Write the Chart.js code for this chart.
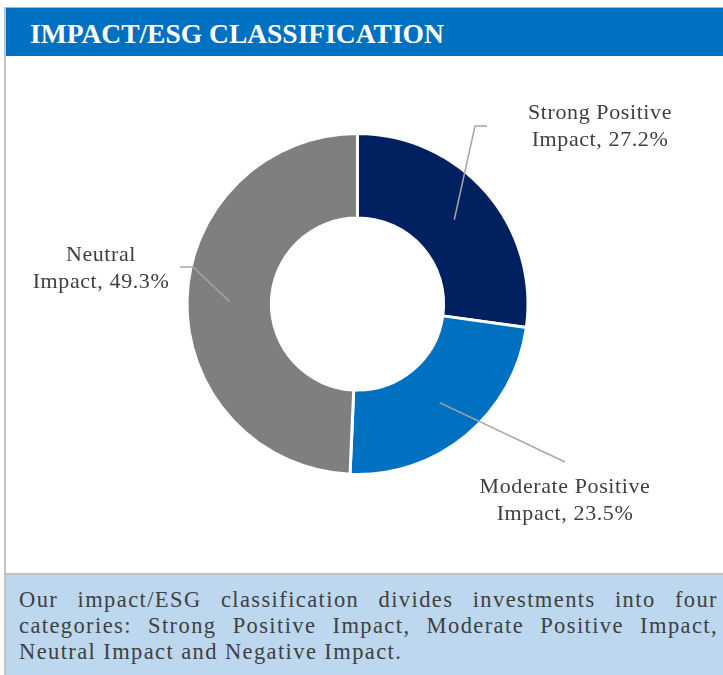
<!DOCTYPE html>
<html>
<head>
<meta charset="utf-8">
<script src="https://cdn.jsdelivr.net/npm/chart.js@4"></script>
<style>
  html, body { margin: 0; padding: 0; background: #fff; }
  body { width: 723px; height: 675px; position: relative; overflow: hidden; }
  .topline { position: absolute; left: 4px; top: 7px; width: 719px; height: 1px; background: #b5b5b5; }
  .leftline { position: absolute; left: 4px; top: 7px; width: 2px; height: 668px; background: #c4c4c4; }
  .header {
    position: absolute; left: 6px; top: 8px; width: 717px; height: 48px;
    background: #0070c0; color: #fff;
    font: bold 27.5px "Liberation Serif", serif; line-height: 48px;
    padding-left: 24px; box-sizing: border-box; padding-top: 2px;
  }
  .chartbox { position: absolute; left: 0; top: 56px; width: 723px; height: 517px; }
  .note {
    position: absolute; left: 6px; top: 573px; width: 717px; height: 102px;
    border-top: 2px solid #c0c0c0; background: #bdd7ee; box-sizing: border-box;
    padding: 12px 5px 0 13px; color: #404040;
    font: 22.5px "Liberation Serif", serif; line-height: 26px; letter-spacing: 1.4px;
  }
  .note div { text-align: justify; text-align-last: justify; white-space: nowrap; }
  .note div.last { text-align-last: left; }
</style>
</head>
<body>
<div class="topline"></div>
<div class="header">IMPACT/ESG CLASSIFICATION</div>
<div class="chartbox"><canvas id="myChart"></canvas></div>
<div class="note">
  <div>Our impact/ESG classification divides investments into four</div>
  <div>categories: Strong Positive Impact, Moderate Positive Impact,</div>
  <div class="last">Neutral Impact and Negative Impact.</div>
</div>
<div class="leftline"></div>
<script>
const categories = ['Strong Positive Impact', 'Moderate Positive Impact', 'Neutral Impact'];
const shares = [27.2, 23.5, 49.3];
const colors = ['#002060', '#0070C0', '#7F7F7F'];

// label placement relative to the doughnut centre (text centre, leader line points)
const labelLayout = [
    { text: [242.5, -191], line: [[117.5, -178], [129.5, -178]] },
    { text: [207.5, 183], line: [[207.5, 158]] },
    { text: [-256.5, -49], line: [[-164.5, -37], [-177.5, -37]] }
];

function labelLines(i) {
    const words = categories[i].split(' ');
    const last = words.pop();
    return [words.join(' '), last + ', ' + shares[i].toFixed(1) + '%'];
}

const calloutPlugin = {
    id: 'callouts',
    afterDatasetsDraw(chart) {
        const ctx = chart.ctx;
        const arcs = chart.getDatasetMeta(0).data;
        ctx.save();
        arcs.forEach((arc, i) => {
            const p = arc.getProps(['x', 'y', 'startAngle', 'endAngle', 'innerRadius', 'outerRadius'], true);
            const a = (p.startAngle + p.endAngle) / 2;
            const r = (p.innerRadius + p.outerRadius) / 2;
            const lay = labelLayout[i];
            ctx.strokeStyle = '#a6a6a6';
            ctx.lineWidth = 1.5;
            ctx.beginPath();
            ctx.moveTo(p.x + Math.cos(a) * r, p.y + Math.sin(a) * r);
            lay.line.forEach(pt => ctx.lineTo(p.x + pt[0], p.y + pt[1]));
            ctx.stroke();

            ctx.fillStyle = '#404040';
            ctx.font = '22px "Liberation Serif", serif';
            ctx.letterSpacing = '0.6px';
            ctx.textAlign = 'center';
            ctx.textBaseline = 'middle';
            labelLines(i).forEach((t, k) => {
                ctx.fillText(t, p.x + lay.text[0], p.y + lay.text[1] + k * 27);
            });
        });
        ctx.restore();
    }
};

const data = {
    labels: categories,
    datasets: [{
        data: shares,
        backgroundColor: colors,
        borderColor: '#ffffff',
        borderWidth: 3,
        hoverOffset: 0
    }]
};

const config = {
    type: 'doughnut',
    data: data,
    options: {
        responsive: true,
        maintainAspectRatio: false,
        animation: false,
        cutout: '50.5%',
        layout: { padding: { left: 0, right: 8, top: 76, bottom: 97 } },
        plugins: {
            legend: { display: false },
            tooltip: { enabled: false }
        }
    },
    plugins: [calloutPlugin]
};

const myChart = new Chart(document.getElementById('myChart'), config);
</script>
</body>
</html>
